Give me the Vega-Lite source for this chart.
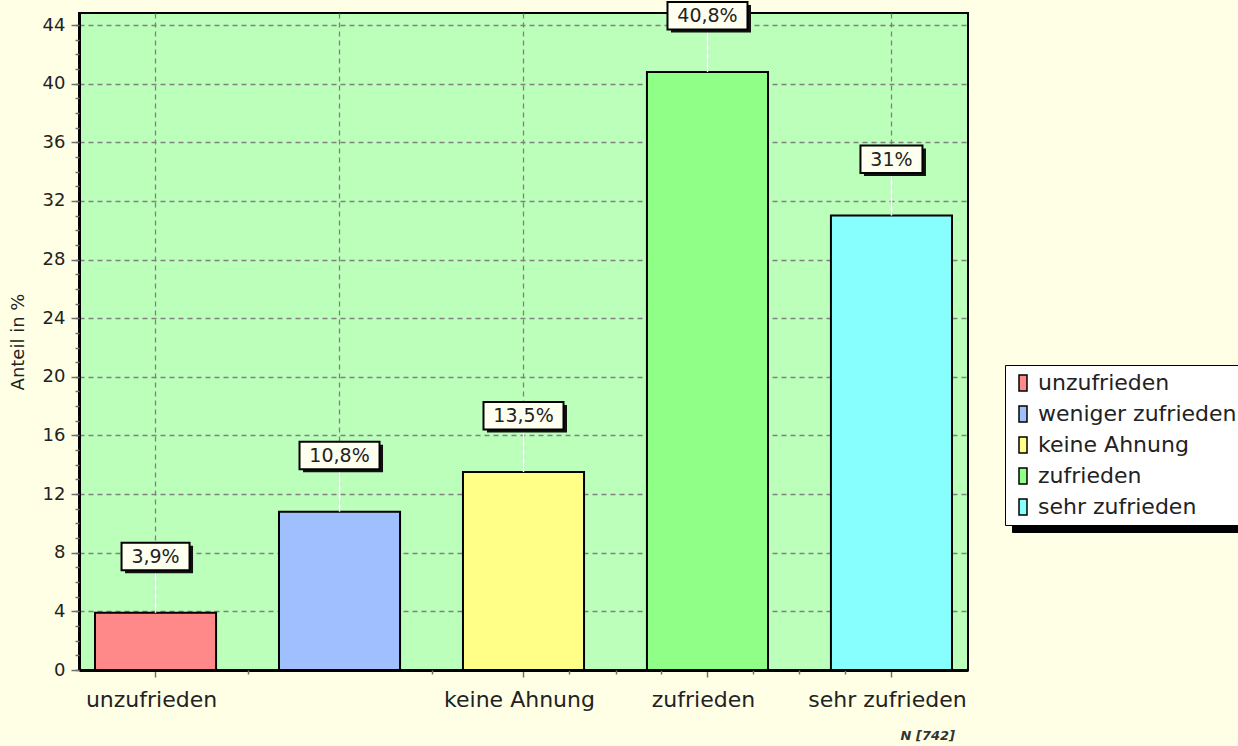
{
  "$schema": "https://vega.github.io/schema/vega-lite/v6.json",
  "width": 889,
  "height": 657,
  "autosize": {"type": "none"},
  "padding": {"left": 79, "top": 13, "right": 270, "bottom": 76},
  "background": "#FFFFE6",
  "config": {
    "font": "DejaVu Sans",
    "view": {"fill": "#BBFFBB", "stroke": "#000000", "strokeWidth": 2},
    "axis": {
      "gridColor": "#808080",
      "gridDash": [5, 4],
      "gridWidth": 1.3,
      "gridOpacity": 1,
      "tickColor": "#707070",
      "tickWidth": 1.5,
      "labelColor": "#222222",
      "domainColor": "#000000",
      "titleColor": "#222222"
    }
  },
  "title": {
    "text": "N [742]",
    "orient": "bottom",
    "anchor": "end",
    "frame": "group",
    "fontSize": 13,
    "fontStyle": "italic",
    "fontWeight": "bold",
    "color": "#333333",
    "offset": 20,
    "dx": -13
  },
  "data": {
    "values": [
      {"kategorie": "unzufrieden", "anteil": 3.9, "label": "3,9%"},
      {"kategorie": "weniger zufrieden", "anteil": 10.8, "label": "10,8%"},
      {"kategorie": "keine Ahnung", "anteil": 13.5, "label": "13,5%"},
      {"kategorie": "zufrieden", "anteil": 40.8, "label": "40,8%"},
      {"kategorie": "sehr zufrieden", "anteil": 31, "label": "31%"}
    ]
  },
  "resolve": {"axis": {"x": "independent", "y": "independent"}},
  "layer": [
    {
      "mark": {"type": "bar", "stroke": "#000000", "strokeWidth": 2},
      "encoding": {
        "x": {
          "field": "kategorie",
          "type": "nominal",
          "sort": null,
          "scale": {
            "domain": ["unzufrieden", "weniger zufrieden", "keine Ahnung", "zufrieden", "sehr zufrieden"],
            "paddingInner": 0.342,
            "paddingOuter": 0.087
          },
          "axis": {
            "orient": "bottom",
            "values": ["unzufrieden", "keine Ahnung", "zufrieden", "sehr zufrieden"],
            "title": null,
            "labelAngle": 0,
            "labelFontSize": 22,
            "labelPadding": 12,
            "labelLimit": 400,
            "labelOffset": -4,
            "tickSize": 7,
            "grid": false,
            "domainWidth": 3
          }
        },
        "y": {
          "field": "anteil",
          "type": "quantitative",
          "scale": {"domain": [0, 44.82], "nice": false},
          "axis": {
            "orient": "left",
            "title": "Anteil in %",
            "values": [0, 4, 8, 12, 16, 20, 24, 28, 32, 36, 40, 44],
            "titleFontSize": 18,
            "titleFontWeight": "normal",
            "titlePadding": 15,
            "labelFontSize": 18,
            "labelPadding": 6,
            "tickSize": 8,
            "domainWidth": 3,
            "grid": true
          }
        },
        "color": {
          "field": "kategorie",
          "type": "nominal",
          "sort": null,
          "scale": {
            "domain": ["unzufrieden", "weniger zufrieden", "keine Ahnung", "zufrieden", "sehr zufrieden"],
            "range": ["#FF8888", "#A0BFFF", "#FFFF88", "#90FF88", "#88FFFF"]
          },
          "legend": {
            "title": null,
            "orient": "none",
            "legendX": 926,
            "legendY": 352,
            "fillColor": "#FFFFFF",
            "strokeColor": "#000000",
            "padding": 7,
            "labelFontSize": 22,
            "labelColor": "#222222",
            "labelLimit": 400,
            "labelOffset": 4,
            "rowPadding": 9,
            "symbolType": "M-0.5,-1H0.5V1H-0.5Z",
            "symbolSize": 256,
            "symbolStrokeColor": "#000000",
            "symbolStrokeWidth": 1.5,
            "zindex": 2
          }
        }
      }
    },
    {
      "mark": {"type": "rule", "color": "#FFFFFF", "strokeWidth": 1.5, "y2Offset": -42.5},
      "encoding": {
        "x": {
          "field": "kategorie",
          "type": "nominal",
          "sort": null,
          "axis": {"orient": "bottom", "title": null, "labels": false, "ticks": false, "domain": false, "grid": true}
        },
        "y": {"field": "anteil", "type": "quantitative", "axis": null},
        "y2": {"field": "anteil"}
      }
    },
    {
      "mark": {"type": "bar", "color": "#111111", "yOffset": -67, "y2Offset": -39.5, "xOffset": 3.5},
      "encoding": {
        "x": {
          "field": "kategorie",
          "type": "nominal",
          "sort": null,
          "axis": {
            "orient": "bottom",
            "title": null,
            "values": ["unzufrieden", "weniger zufrieden", "keine Ahnung", "zufrieden"],
            "tickOffset": 92,
            "labels": false,
            "domain": false,
            "grid": false,
            "tickSize": 4
          }
        },
        "y": {"field": "anteil", "type": "quantitative", "axis": null},
        "y2": {"field": "anteil"},
        "size": {
          "field": "label",
          "type": "nominal",
          "scale": {"type": "ordinal", "domain": ["3,9%", "10,8%", "13,5%", "40,8%", "31%"], "range": [68, 80, 80, 80, 62]},
          "legend": null
        }
      }
    },
    {
      "mark": {"type": "bar", "color": "#FFFFF0", "stroke": "#000000", "strokeWidth": 2, "yOffset": -70, "y2Offset": -42.5},
      "encoding": {
        "x": {
          "field": "kategorie",
          "type": "nominal",
          "sort": null,
          "axis": {
            "orient": "bottom",
            "title": null,
            "values": ["keine Ahnung", "zufrieden"],
            "tickOffset": 46,
            "labels": false,
            "domain": false,
            "grid": false,
            "tickSize": 4
          }
        },
        "y": {"field": "anteil", "type": "quantitative", "axis": null},
        "y2": {"field": "anteil"},
        "size": {
          "field": "label",
          "type": "nominal",
          "scale": {"type": "ordinal", "domain": ["3,9%", "10,8%", "13,5%", "40,8%", "31%"], "range": [68, 80, 80, 80, 62]},
          "legend": null
        }
      }
    },
    {
      "mark": {"type": "text", "fontSize": 19, "yOffset": -56, "baseline": "middle", "color": "#222222"},
      "encoding": {
        "x": {
          "field": "kategorie",
          "type": "nominal",
          "sort": null,
          "axis": {
            "orient": "bottom",
            "title": null,
            "values": ["zufrieden", "sehr zufrieden"],
            "tickOffset": -46,
            "labels": false,
            "domain": false,
            "grid": false,
            "tickSize": 4
          }
        },
        "y": {"field": "anteil", "type": "quantitative", "axis": null},
        "text": {"field": "label"}
      }
    },
    {
      "mark": {"type": "point", "opacity": 0},
      "encoding": {
        "x": {"field": "kategorie", "type": "nominal", "sort": null, "axis": null},
        "y": {
          "field": "anteil",
          "type": "quantitative",
          "axis": {
            "orient": "left",
            "title": null,
            "values": [0, 1, 2, 3, 4, 5, 6, 7, 8, 9, 10, 11, 12, 13, 14, 15, 16, 17, 18, 19, 20, 21, 22, 23, 24, 25, 26, 27, 28, 29, 30, 31, 32, 33, 34, 35, 36, 37, 38, 39, 40, 41, 42, 43, 44],
            "labels": false,
            "grid": false,
            "domain": false,
            "tickSize": 4
          }
        },
        "shape": {
          "field": "kategorie",
          "type": "nominal",
          "legend": {
            "title": null,
            "orient": "none",
            "legendX": 933,
            "legendY": 359,
            "fillColor": "#000000",
            "strokeColor": "#000000",
            "padding": 7,
            "labelExpr": "''",
            "labelFontSize": 22,
            "labelOffset": 0,
            "rowPadding": 9,
            "symbolSize": 256,
            "symbolOffset": 240,
            "symbolFillColor": "#000000",
            "symbolStrokeColor": "#000000",
            "zindex": 1
          }
        }
      }
    }
  ]
}
